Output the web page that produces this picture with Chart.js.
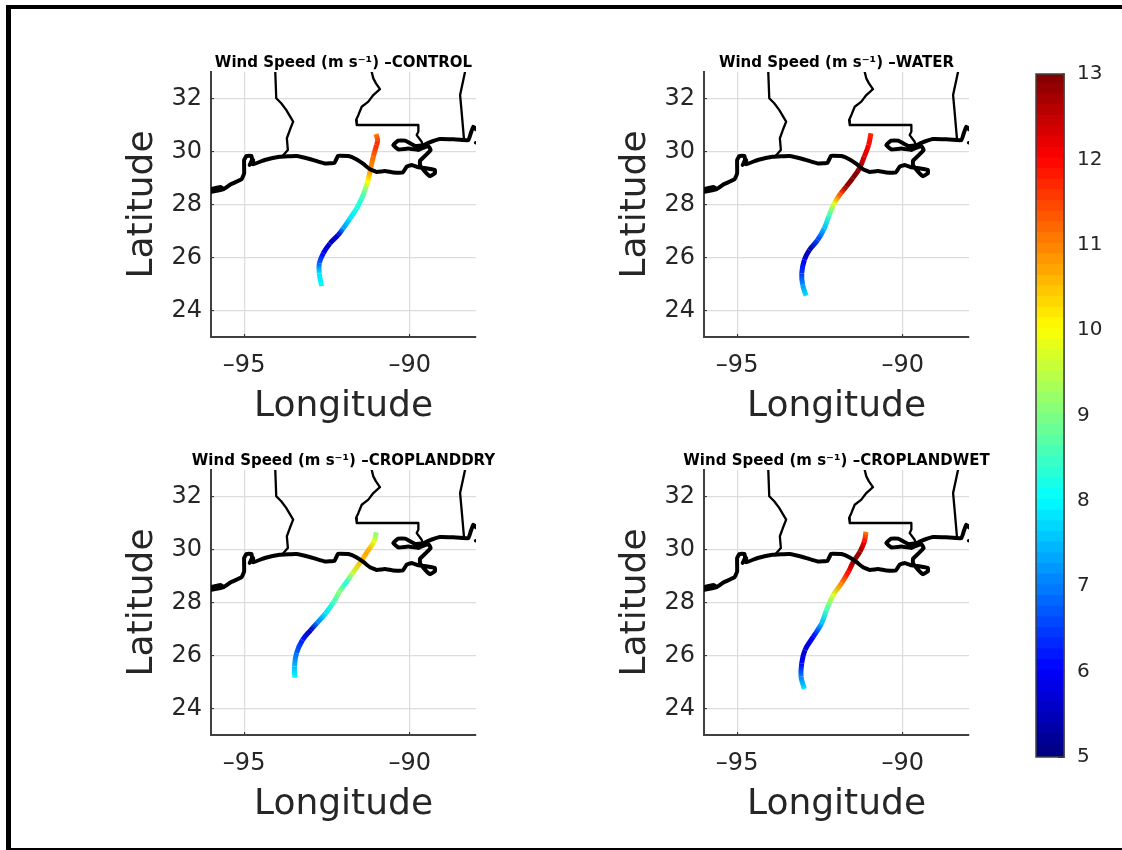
<!DOCTYPE html>
<html>
<head>
<meta charset="utf-8">
<script src="https://cdn.jsdelivr.net/npm/chart.js@4"></script>
<style>
html,body{margin:0;padding:0;background:#fff;width:1122px;height:850px;overflow:hidden}
canvas{position:absolute}
.b{position:absolute;background:#000}
</style>
</head>
<body>
<div class="b" style="left:6px;top:5px;width:1116px;height:4px"></div>
<div class="b" style="left:6px;top:5px;width:5px;height:845px"></div>
<div class="b" style="left:6px;top:848px;width:1116px;height:2px"></div>
<canvas id="p0" width="465" height="395" style="left:111px;top:42px;width:465px;height:395px"></canvas>
<canvas id="p1" width="465" height="395" style="left:604px;top:42px;width:465px;height:395px"></canvas>
<canvas id="p2" width="465" height="395" style="left:111px;top:440px;width:465px;height:395px"></canvas>
<canvas id="p3" width="465" height="395" style="left:604px;top:440px;width:465px;height:395px"></canvas>
<canvas id="cb" width="92" height="720" style="left:1030px;top:60px;width:92px;height:720px"></canvas>
<script>
// Map outlines
const coastLon=[-95.99,-95.72,-95.62,-95.99,-95.62,-95.39,-95.08,-95.00,-95.00,-94.93,-94.78,-94.76,-94.83,-94.73,-94.73,-94.38,-93.93,-93.42,-92.97,-92.57,-92.27,-92.17,-92.11,-91.85,-91.60,-91.40,-91.20,-91.00,-90.75,-90.50,-90.21,-90.09,-89.94,-89.74,-89.47,-89.24,-89.24,-89.39,-89.54,-89.69,-89.69,-89.51,-89.37,-89.44,-89.74,-90.04,-90.35,-90.50,-90.35,-90.14,-89.84,-89.59,-89.44,-89.09,-88.69,-88.23,-88.16,-88.08,-88.00];
const coastLat=[28.58,28.66,28.58,28.48,28.58,28.77,28.95,29.17,29.68,29.83,29.83,29.68,29.49,29.68,29.52,29.68,29.80,29.83,29.70,29.55,29.58,29.83,29.84,29.83,29.70,29.53,29.33,29.23,29.26,29.21,29.21,29.43,29.49,29.40,29.36,29.30,29.18,29.07,29.24,29.49,29.65,29.87,30.06,30.21,30.06,30.11,30.08,30.25,30.41,30.41,30.21,30.24,30.33,30.47,30.46,30.43,30.68,30.94,30.84];
const txLon=[-94.06,-94.03,-93.88,-93.73,-93.52,-93.62,-93.71,-93.68,-93.86];
const txLat=[33.01,32.01,31.82,31.57,31.13,30.81,30.50,30.06,29.80];
const msLon=[-91.15,-91.10,-91.02,-90.90,-91.10,-91.25,-91.45,-91.55,-91.62,-91.60,-89.74,-89.74,-89.79,-89.64,-89.61];
const msLat=[33.01,32.76,32.57,32.35,32.13,31.88,31.69,31.38,31.19,31.00,31.00,30.75,30.62,30.37,30.24];
const alLon=[-88.33,-88.48,-88.43,-88.36];
const alLat=[33.01,32.13,31.44,30.43];
const isleLon=[-88.01];
const isleLat=[30.33];
// Tracks
const controlLon=[-92.66,-92.73,-92.73,-92.61,-92.41,-92.16,-92.01,-91.80,-91.60,-91.45,-91.35,-91.27,-91.20,-91.10,-91.00,-90.97,-91.02];
const controlLat=[24.92,25.40,25.78,26.16,26.53,26.85,27.10,27.48,27.86,28.23,28.55,28.86,29.24,29.81,30.25,30.43,30.66];
const controlWind=[8,7.8,6.8,6,5.5,5.7,7.2,7.8,8.2,8.4,9,10,10.8,11.2,11.7,11.5,11];
const waterLon=[-92.92,-93.02,-93.05,-92.97,-92.82,-92.57,-92.37,-92.22,-92.07,-91.87,-91.71,-91.51,-91.31,-91.16,-91.03,-90.96];
const waterLat=[24.56,24.96,25.40,25.91,26.28,26.66,27.10,27.60,28.04,28.42,28.67,28.99,29.36,29.81,30.25,30.69];
const waterWind=[7.8,7.2,6.4,5.8,5.3,6.5,7.5,8.5,9.8,11.5,12.8,13,12.8,12.3,12,11.7];
const dryLon=[-93.47,-93.48,-93.42,-93.24,-92.99,-92.79,-92.54,-92.29,-92.12,-91.94,-91.73,-91.48,-91.28,-91.08,-91.01];
const dryLat=[25.16,25.58,26.08,26.58,26.96,27.24,27.59,28.03,28.41,28.72,29.10,29.54,29.92,30.30,30.65];
const dryWind=[8,7.5,6.8,6.2,5.5,7,7.8,8.5,9.1,8.2,9.5,10.5,10.7,9.8,9];
const wetLon=[-92.97,-93.07,-93.05,-92.95,-92.70,-92.45,-92.30,-92.10,-91.85,-91.64,-91.49,-91.29,-91.16,-91.11];
const wetLat=[24.74,25.20,25.70,26.21,26.71,27.21,27.72,28.28,28.72,29.16,29.54,29.92,30.30,30.67];
const wetWind=[7.8,7,6,5.6,6,7.5,8.5,9.7,11,12,12.8,12.8,12,11];
const panelNames=['CONTROL','WATER','CROPLANDDRY','CROPLANDWET'];
const lonTicks=[-95,-90];
const latTicks=[24,26,28,30,32];
const cbarTicks=[5,6,7,8,9,10,11,12,13];
const cbarMin=5, cbarMax=13, cbarLevels=64;

function jet(v){
  const t=Math.min(1,Math.max(0,(v-cbarMin)/(cbarMax-cbarMin)));
  const f=c=>Math.round(255*Math.min(1,Math.max(0,1.5-Math.abs(4*t-c))));
  return `rgb(${f(3)},${f(2)},${f(1)})`;
}
const pts=(x,y)=>x.map((v,i)=>({x:v,y:y[i]}));
const FONT='"DejaVu Sans"';
const INK='#262626';

function panel(id,name,lon,lat,wind){
  const outline=(x,y,w,t)=>({data:pts(x,y),showLine:true,borderColor:'#000',borderWidth:w,pointRadius:0,tension:t,borderJoinStyle:'round',borderCapStyle:'round'});
  new Chart(document.getElementById(id),{
    type:'scatter',
    data:{datasets:[
      outline(coastLon,coastLat,4,0.1),
      outline(txLon,txLat,2.3,0),
      outline(msLon,msLat,2.3,0),
      outline(alLon,alLat,2.3,0),
      {data:pts(isleLon,isleLat),pointRadius:1.8,pointBackgroundColor:'#000',pointBorderWidth:0},
      {data:pts(lon,lat),showLine:true,borderWidth:5,pointRadius:0,tension:0.4,borderCapStyle:'butt',
       segment:{borderColor:c=>{
         const g=c.chart.ctx.createLinearGradient(c.p0.x,c.p0.y,c.p1.x,c.p1.y);
         g.addColorStop(0,jet(wind[c.p0DataIndex]));
         g.addColorStop(1,jet(wind[c.p1DataIndex]));
         return g;
       }}}
    ]},
    options:{
      responsive:false,animation:false,
      layout:{padding:0},
      plugins:{legend:{display:false},tooltip:{enabled:false},
        title:{display:true,text:'Wind Speed (m s⁻¹) –'+name,color:'#000',
          font:{family:FONT,size:15,weight:'bold',lineHeight:1.2},padding:{top:12,bottom:0}}},
      scales:{
        x:{type:'linear',min:-96,max:-88,
          afterBuildTicks:s=>{s.ticks=lonTicks.map(v=>({value:v}));},
          afterFit:s=>{s.height=100;},
          grid:{color:'#dcdcdc',lineWidth:1.2,tickLength:-3,tickColor:INK,tickWidth:1},
          border:{color:'#404040',width:2},
          ticks:{color:INK,padding:17,maxRotation:0,autoSkip:false,font:{family:FONT,size:24},callback:v=>String(v).replace('-','–')},
          title:{display:true,text:'Longitude',color:INK,font:{family:FONT,size:36,lineHeight:1.2},padding:{top:0,bottom:9}}},
        y:{type:'linear',min:23,max:33,
          afterBuildTicks:s=>{s.ticks=latTicks.map(v=>({value:v}));},
          afterFit:s=>{s.width=100;},
          grid:{color:'#dcdcdc',lineWidth:1.2,tickLength:-3,tickColor:INK,tickWidth:1},
          border:{color:'#404040',width:2},
          ticks:{color:INK,padding:12,autoSkip:false,font:{family:FONT,size:24}},
          title:{display:true,text:'Latitude',color:INK,font:{family:FONT,size:36,lineHeight:1.2},padding:{top:10,bottom:0}}},
        spacer:{type:'linear',position:'right',min:23,max:33,
          afterFit:s=>{s.width=100;},
          grid:{display:false},border:{display:false},ticks:{display:false}}
      }
    }
  });
}
panel('p0',panelNames[0],controlLon,controlLat,controlWind);
panel('p1',panelNames[1],waterLon,waterLat,waterWind);
panel('p2',panelNames[2],dryLon,dryLat,dryWind);
panel('p3',panelNames[3],wetLon,wetLat,wetWind);

// Colour bar: one floating band per colormap level, all in the same slot
const step=(cbarMax-cbarMin)/cbarLevels;
const bands=Array.from({length:cbarLevels},(_,i)=>cbarMin+i*step);
new Chart(document.getElementById('cb'),{
  type:'bar',
  data:{labels:[''],datasets:bands.map(b=>({
    data:[[b,Math.min(cbarMax,b+step*1.15)]],
    backgroundColor:jet(b+step/2),
    borderWidth:0,grouped:false,categoryPercentage:1,barPercentage:1
  }))},
  options:{
    responsive:false,animation:false,
    layout:{padding:{top:14,bottom:23,left:6,right:0}},
    plugins:{legend:{display:false},tooltip:{enabled:false}},
    scales:{
      x:{display:false},
      y:{position:'right',min:cbarMin,max:cbarMax,
        afterBuildTicks:s=>{s.ticks=cbarTicks.map(v=>({value:v}));},
        afterFit:s=>{s.width=58;s.paddingTop=0;s.paddingBottom=0;},
        grid:{drawOnChartArea:false,tickLength:-6,tickColor:INK,tickWidth:1},
        border:{color:'#404040',width:1.5},
        ticks:{color:INK,padding:19,font:{family:FONT,size:20},autoSkip:false}}
    }
  },
  plugins:[{id:'frame',afterDatasetsDraw(c){
    const a=c.chartArea,x=c.ctx;
    x.save();x.strokeStyle='#404040';x.lineWidth=1.5;
    x.strokeRect(a.left,a.top,a.right-a.left,a.bottom-a.top);x.restore();
  }}]
});
</script>
</body>
</html>
